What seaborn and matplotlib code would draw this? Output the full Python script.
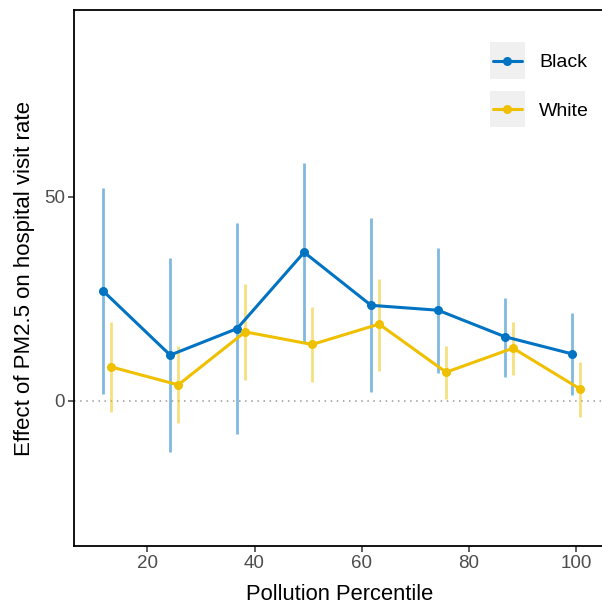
import numpy as np
import pandas as pd
import matplotlib
matplotlib.use("Agg")
import matplotlib.pyplot as plt
from matplotlib.legend_handler import HandlerLine2D
from matplotlib.lines import Line2D
from matplotlib.patches import Rectangle
import seaborn as sns

# Pollution percentile bins
percentile = [12.5, 25, 37.5, 50, 62.5, 75, 87.5, 100]

# Estimated effect and 95% CI by group
black_est = [26.9, 11.2, 17.7, 36.4, 23.4, 22.2, 15.7, 11.5]
black_lo = [1.6, -12.5, -8.2, 14.5, 2.1, 6.9, 5.9, 1.5]
black_hi = [52.1, 34.9, 43.6, 58.2, 44.8, 37.4, 25.2, 21.4]

white_est = [8.3, 3.9, 16.9, 13.8, 18.8, 7.0, 12.9, 2.9]
white_lo = [-2.8, -5.5, 5.2, 4.7, 7.4, 0.4, 6.3, -3.9]
white_hi = [19.4, 13.5, 28.6, 23.0, 29.8, 13.5, 19.4, 9.6]

groups = ["Black", "White"]
colors = {"Black": "#0073C2", "White": "#EFC000"}
dodge = {"Black": -0.75, "White": 0.75}

frames = []
for g, est, lo, hi in [("Black", black_est, black_lo, black_hi),
                       ("White", white_est, white_lo, white_hi)]:
    frames.append(pd.DataFrame({
        "group": g,
        "pct": np.array(percentile) + dodge[g],
        "est": est, "lo": lo, "hi": hi,
    }))
df = pd.concat(frames, ignore_index=True)

sns.set_theme(style="white")
plt.rcParams["font.family"] = ["Liberation Sans", "DejaVu Sans"]

fig = plt.figure(figsize=(6.02, 6.05), dpi=100)
W, H = 602, 605
left, right, top, bottom = 74, 604.4, 10, 546
ax = fig.add_axes([left / W, 1 - bottom / H, (right - left) / W, (bottom - top) / H])

ax.axhline(0, color="#9a9a9a", lw=1.1, ls=(0, (1, 3)), zorder=1)

for g in groups:
    d = df[df.group == g]
    ax.vlines(d["pct"], d["lo"], d["hi"], color=colors[g], alpha=0.5, lw=2.0, zorder=2)

sns.lineplot(data=df, x="pct", y="est", hue="group", palette=colors,
             marker="o", markersize=6.5, markeredgewidth=0, lw=2.2,
             ax=ax, legend=False, zorder=3, errorbar=None, sort=True)

ax.set_xlim(6.3, 105.3)
ax.set_ylim(-35.6, 95.8)
ax.set_xticks([20, 40, 60, 80, 100])
ax.set_yticks([0, 50])
ax.tick_params(axis="both", which="both", length=4, width=1.1, color="#333333",
               labelsize=13.5, labelcolor="#4D4D4D", direction="out",
               bottom=True, left=True, pad=2.5)
for s in ["left", "bottom", "top"]:
    ax.spines[s].set_color("black")
    ax.spines[s].set_linewidth(1.3)
ax.spines["right"].set_visible(False)

ax.set_xlabel("Pollution Percentile", fontsize=15.8, color="black", labelpad=8.5)
ax.set_ylabel("Effect of PM2.5 on hospital visit rate", fontsize=16,
              color="black", labelpad=6.5)


class BoxedLineHandler(HandlerLine2D):
    def create_artists(self, legend, orig_handle, xdescent, ydescent,
                       width, height, fontsize, trans):
        cy = -ydescent + height / 2
        box = Rectangle((-xdescent - 2.2, cy - 13), width + 4.4, 26,
                        facecolor="#F0F0F0", edgecolor="none", transform=trans)
        arts = super().create_artists(legend, orig_handle, xdescent, ydescent,
                                      width, height, fontsize, trans)
        return [box] + arts


handles = [Line2D([], [], color=colors[g], lw=2.2, marker="o", markersize=6.5,
                  markeredgewidth=0) for g in groups]
leg = ax.legend(handles, groups, loc="upper left",
                bbox_to_anchor=((483.3 - left) / (right - left), 1 - (44 - top) / (bottom - top)),
                frameon=False, fontsize=14, handlelength=1.48, handletextpad=0.88,
                labelspacing=1.61, borderpad=0, numpoints=1,
                handler_map={Line2D: BoxedLineHandler(numpoints=1)})
for t in leg.get_texts():
    t.set_color("black")

fig.savefig("out.png", dpi=100)
